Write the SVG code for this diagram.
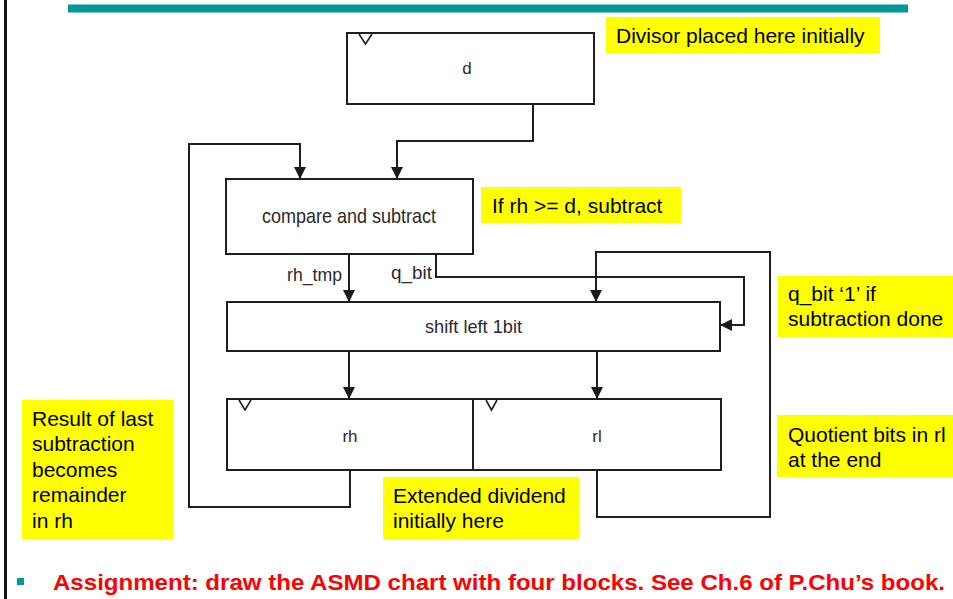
<svg xmlns="http://www.w3.org/2000/svg" width="953" height="599" viewBox="0 0 953 599">
  <defs>
    <marker id="arrow" markerUnits="userSpaceOnUse" markerWidth="12" markerHeight="12" viewBox="0 0 12 12" refX="11" refY="6" orient="auto">
      <path d="M0,0 L12,6 L0,12 Z" fill="#1a1a1a"/>
    </marker>
    <style>
      .blk { fill: #ffffff; stroke: #1f1f1f; stroke-width: 2; }
      .clk { fill: none; stroke: #1f1f1f; stroke-width: 1.6; }
      .wire { fill: none; stroke: #1f1f1f; stroke-width: 2; }
      .lbl { font-family: "Liberation Sans", Arial, sans-serif; font-size: 17px; fill: #2a2a2a; }
      .big { font-size: 21px; }
      .mid { font-size: 19px; }
      .note { fill: #ffff00; }
      .ntxt { font-family: "Liberation Sans", Arial, sans-serif; font-size: 21px; fill: #000; }
      .task { font-family: "Liberation Sans", Arial, sans-serif; font-size: 22px; font-weight: bold; fill: #ff0000; }
    </style>
  </defs>

  <rect width="953" height="599" fill="#ffffff"/>

  <!-- slide frame: left rule and title bar -->
  <rect x="4" y="0" width="3" height="599" fill="#111"/>
  <rect x="68" y="4.5" width="840" height="8" fill="#009a96"/>

  <!-- connectors -->
  <g id="connectors">
    <path class="wire" d="M533,104 V141 H397 V178" marker-end="url(#arrow)"/>
    <path class="wire" d="M350,471 V507 H189 V144 H300 V178" marker-end="url(#arrow)"/>
    <path class="wire" d="M349,254 V301" marker-end="url(#arrow)"/>
    <path class="wire" d="M436,254 V277 H744 V325 H721" marker-end="url(#arrow)"/>
    <path class="wire" d="M597,471 V517 H770 V252 H596 V301" marker-end="url(#arrow)"/>
    <path class="wire" d="M349,351 V398" marker-end="url(#arrow)"/>
    <path class="wire" d="M597,351 V398" marker-end="url(#arrow)"/>
  </g>

  <!-- divisor register -->
  <g id="reg-d">
    <rect class="blk" x="347" y="33" width="247" height="71"/>
    <path class="clk" d="M359,34 L365.5,44 L372,34"/>
    <text class="lbl" x="467" y="74" text-anchor="middle">d</text>
  </g>

  <!-- compare and subtract -->
  <g id="cmp-sub">
    <rect class="blk" x="226" y="179" width="247" height="75"/>
    <text class="lbl big" x="262" y="223" textLength="174" lengthAdjust="spacingAndGlyphs">compare and subtract</text>
  </g>

  <!-- output labels of compare block -->
  <g id="cmp-outputs">
    <text class="lbl mid" x="287" y="281" textLength="55" lengthAdjust="spacingAndGlyphs">rh_tmp</text>
    <text class="lbl mid" x="391" y="279" textLength="41" lengthAdjust="spacingAndGlyphs">q_bit</text>
  </g>

  <!-- shifter -->
  <g id="shift">
    <rect class="blk" x="227" y="302" width="493" height="49"/>
    <text class="lbl mid" x="425" y="333" textLength="97" lengthAdjust="spacingAndGlyphs">shift left 1bit</text>
  </g>

  <!-- rh / rl register pair -->
  <g id="reg-rh">
    <rect class="blk" x="227" y="399" width="246" height="71"/>
    <path class="clk" d="M239,400 L245,410 L251,400"/>
    <text class="lbl" x="350" y="442" text-anchor="middle">rh</text>
  </g>
  <g id="reg-rl">
    <rect class="blk" x="473" y="399" width="248" height="71"/>
    <path class="clk" d="M486,400 L491.5,410 L497,400"/>
    <text class="lbl" x="597" y="442" text-anchor="middle">rl</text>
  </g>

  <!-- annotations -->
  <g id="note-divisor">
    <rect class="note" x="606" y="17" width="274" height="36"/>
    <text class="ntxt" x="616" y="43">Divisor placed here initially</text>
  </g>
  <g id="note-subtract">
    <rect class="note" x="481" y="187" width="200" height="36"/>
    <text class="ntxt" x="492" y="212.5">If rh &gt;= d, subtract</text>
  </g>
  <g id="note-qbit">
    <rect class="note" x="778" y="276" width="175" height="61"/>
    <text class="ntxt" x="788" y="300.5">q_bit ‘1’ if</text>
    <text class="ntxt" x="788" y="325.5">subtraction done</text>
  </g>
  <g id="note-quotient">
    <rect class="note" x="777" y="415" width="176" height="62"/>
    <text class="ntxt" x="788" y="441.5">Quotient bits in rl</text>
    <text class="ntxt" x="788" y="466.5">at the end</text>
  </g>
  <g id="note-dividend">
    <rect class="note" x="383" y="477" width="196" height="62"/>
    <text class="ntxt" x="393" y="502.5">Extended dividend</text>
    <text class="ntxt" x="393" y="527.5">initially here</text>
  </g>
  <g id="note-remainder">
    <rect class="note" x="22" y="400" width="151" height="139"/>
    <text class="ntxt" x="32" y="425.5">Result of last</text>
    <text class="ntxt" x="32" y="450.5">subtraction</text>
    <text class="ntxt" x="32" y="476.5">becomes</text>
    <text class="ntxt" x="32" y="502">remainder</text>
    <text class="ntxt" x="32" y="527.5">in rh</text>
  </g>

  <!-- bullet line -->
  <g id="assignment">
    <rect x="17" y="578" width="7" height="7" fill="#009a96"/>
    <text class="task" x="53" y="589.5" textLength="892" lengthAdjust="spacingAndGlyphs">Assignment: draw the ASMD chart with four blocks. See Ch.6 of P.Chu’s book.</text>
  </g>
</svg>
